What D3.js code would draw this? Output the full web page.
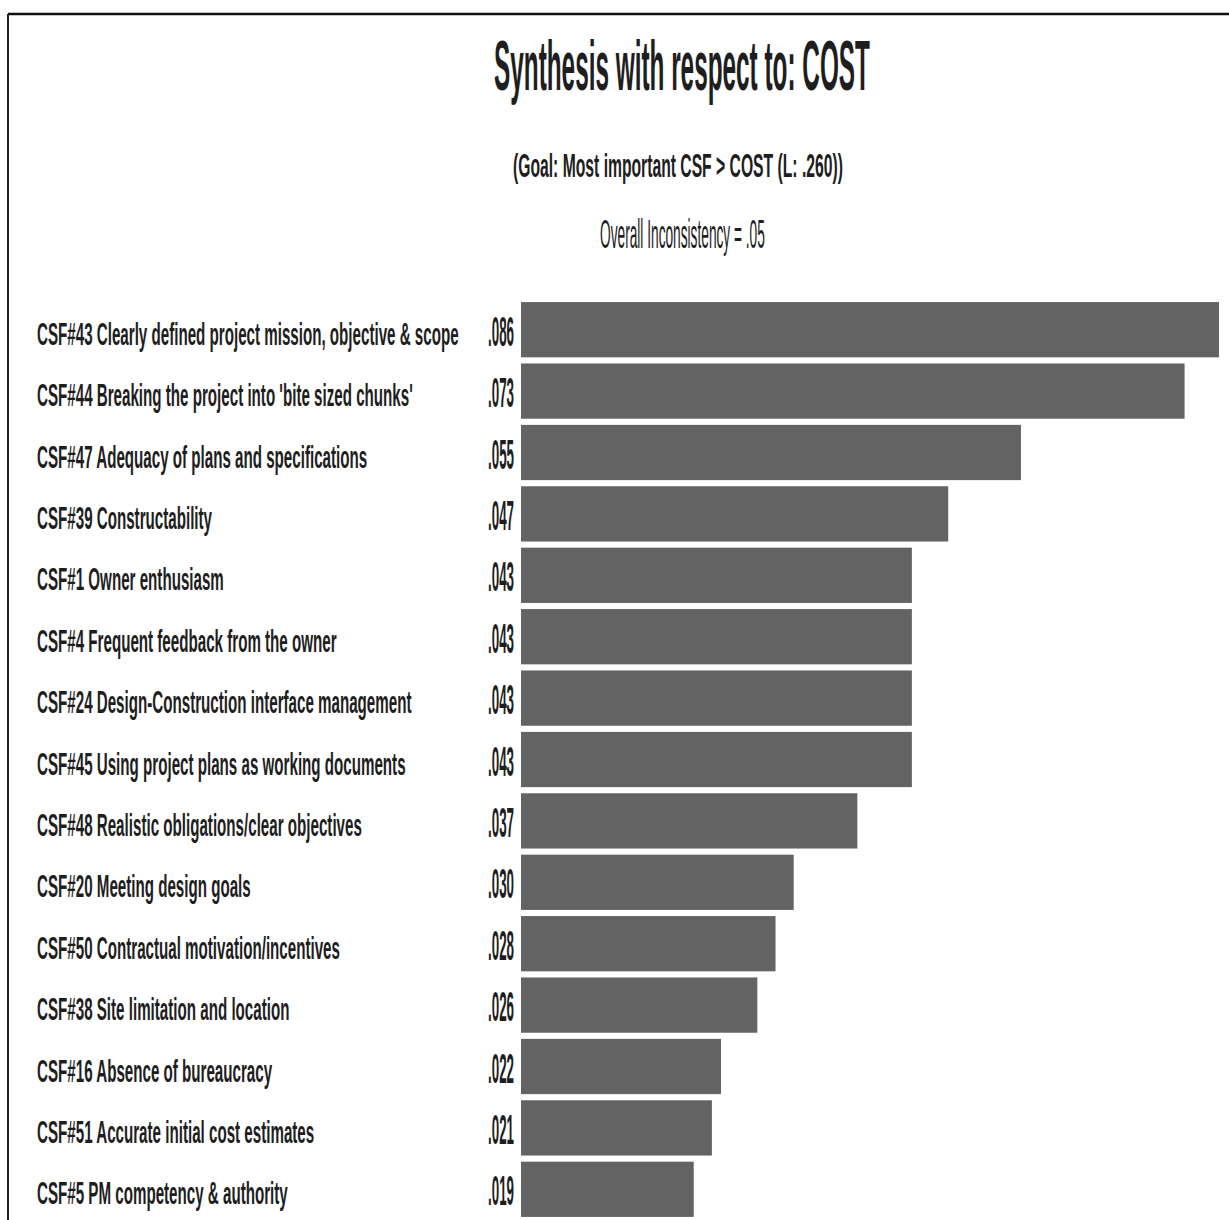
<!DOCTYPE html>
<html>
<head>
<meta charset="utf-8">
<script src="https://cdn.jsdelivr.net/npm/d3@7/dist/d3.min.js"></script>
<style>
  html, body { margin: 0; padding: 0; background: #fff; }
  svg { display: block; }
  text { font-family: "Liberation Sans Narrow", "Liberation Sans", Arial, sans-serif; fill: #1e1e1e; }
</style>
</head>
<body>
<svg id="chart" width="1229" height="1220"></svg>
<script>
// Criteria (critical success factors) in ranked order
const categories = [
  "CSF#43 Clearly defined project mission, objective & scope",
  "CSF#44 Breaking the project into 'bite sized chunks'",
  "CSF#47 Adequacy of plans and specifications",
  "CSF#39 Constructability",
  "CSF#1 Owner enthusiasm",
  "CSF#4 Frequent feedback from the owner",
  "CSF#24 Design-Construction interface management",
  "CSF#45 Using project plans as working documents",
  "CSF#48 Realistic obligations/clear objectives",
  "CSF#20 Meeting design goals",
  "CSF#50 Contractual motivation/incentives",
  "CSF#38 Site limitation and location",
  "CSF#16 Absence of bureaucracy",
  "CSF#51 Accurate initial cost estimates",
  "CSF#5 PM competency & authority"
];

// Synthesized priorities with respect to COST
const priorities = [0.086, 0.073, 0.055, 0.047, 0.043, 0.043, 0.043, 0.043,
                    0.037, 0.030, 0.028, 0.026, 0.022, 0.021, 0.019];

const titleText = "Synthesis with respect to: COST";
const subtitleText = "(Goal: Most important CSF  > COST (L: .260))";
const inconsistencyText = "Overall Inconsistency = .05";

const svg = d3.select("#chart");
const W = 1229, H = 1220;

// Outer frame (top and left edges)
svg.append("line").attr("x1", 8).attr("y1", 14).attr("x2", W).attr("y2", 14)
  .attr("stroke", "#111").attr("stroke-width", 2.5);
svg.append("line").attr("x1", 8).attr("y1", 14).attr("x2", 8).attr("y2", H)
  .attr("stroke", "#222").attr("stroke-width", 2);

// Headings, condensed horizontally to a target width
function heading(txt, x, y, size, len, weight) {
  const t = svg.append("text")
    .attr("font-size", size)
    .attr("font-weight", weight)
    .text(txt);
  const s = len / t.node().getComputedTextLength();
  t.attr("transform", `translate(${x},${y}) scale(${s},1)`);
}
heading(titleText, 494, 90, 70, 376, "bold");
heading(subtitleText, 513, 177, 34, 330, "bold");
heading(inconsistencyText, 600, 248, 40, 165, "normal");

// Scales
const x = d3.scaleLinear().domain([0, 0.1]).range([521, 521 + 909]);
const y = d3.scaleBand().domain(categories).range([299, 299 + 15 * 61.4])
  .paddingInner(0.1).paddingOuter(0.05);

// Plot clip at the right margin
svg.append("clipPath").attr("id", "plotClip")
  .append("rect").attr("x", 0).attr("y", 0).attr("width", 1219).attr("height", H);

const rows = categories.map((c, i) => ({ cat: c, val: priorities[i] }));

svg.append("g").attr("clip-path", "url(#plotClip)")
  .selectAll("rect").data(rows).join("rect")
  .attr("x", x(0))
  .attr("y", d => y(d.cat))
  .attr("width", d => x(d.val) - x(0))
  .attr("height", y.bandwidth())
  .attr("fill", "#636363");

// Category labels (condensed horizontally)
const labels = svg.append("g").selectAll("text").data(rows).join("text")
  .attr("font-size", 32)
  .attr("font-weight", "bold")
  .text(d => d.cat);
const sxLab = 422 / labels.nodes()[0].getComputedTextLength();
labels.attr("transform", d => `translate(37,${y(d.cat) + y.bandwidth() / 2 + 15}) scale(${sxLab},1)`);

// Value labels, right-aligned beside the bars
const fmt = v => d3.format(".3f")(v).replace(/^0/, "");
const vals = svg.append("g").selectAll("text").data(rows).join("text")
  .attr("font-size", 42)
  .attr("font-weight", "bold")
  .attr("text-anchor", "end")
  .text(d => fmt(d.val));
const sxVal = 26 / vals.nodes()[4].getComputedTextLength();
vals.attr("transform", d => `translate(514,${y(d.cat) + y.bandwidth() / 2 + 16}) scale(${sxVal},1)`);
</script>
</body>
</html>
